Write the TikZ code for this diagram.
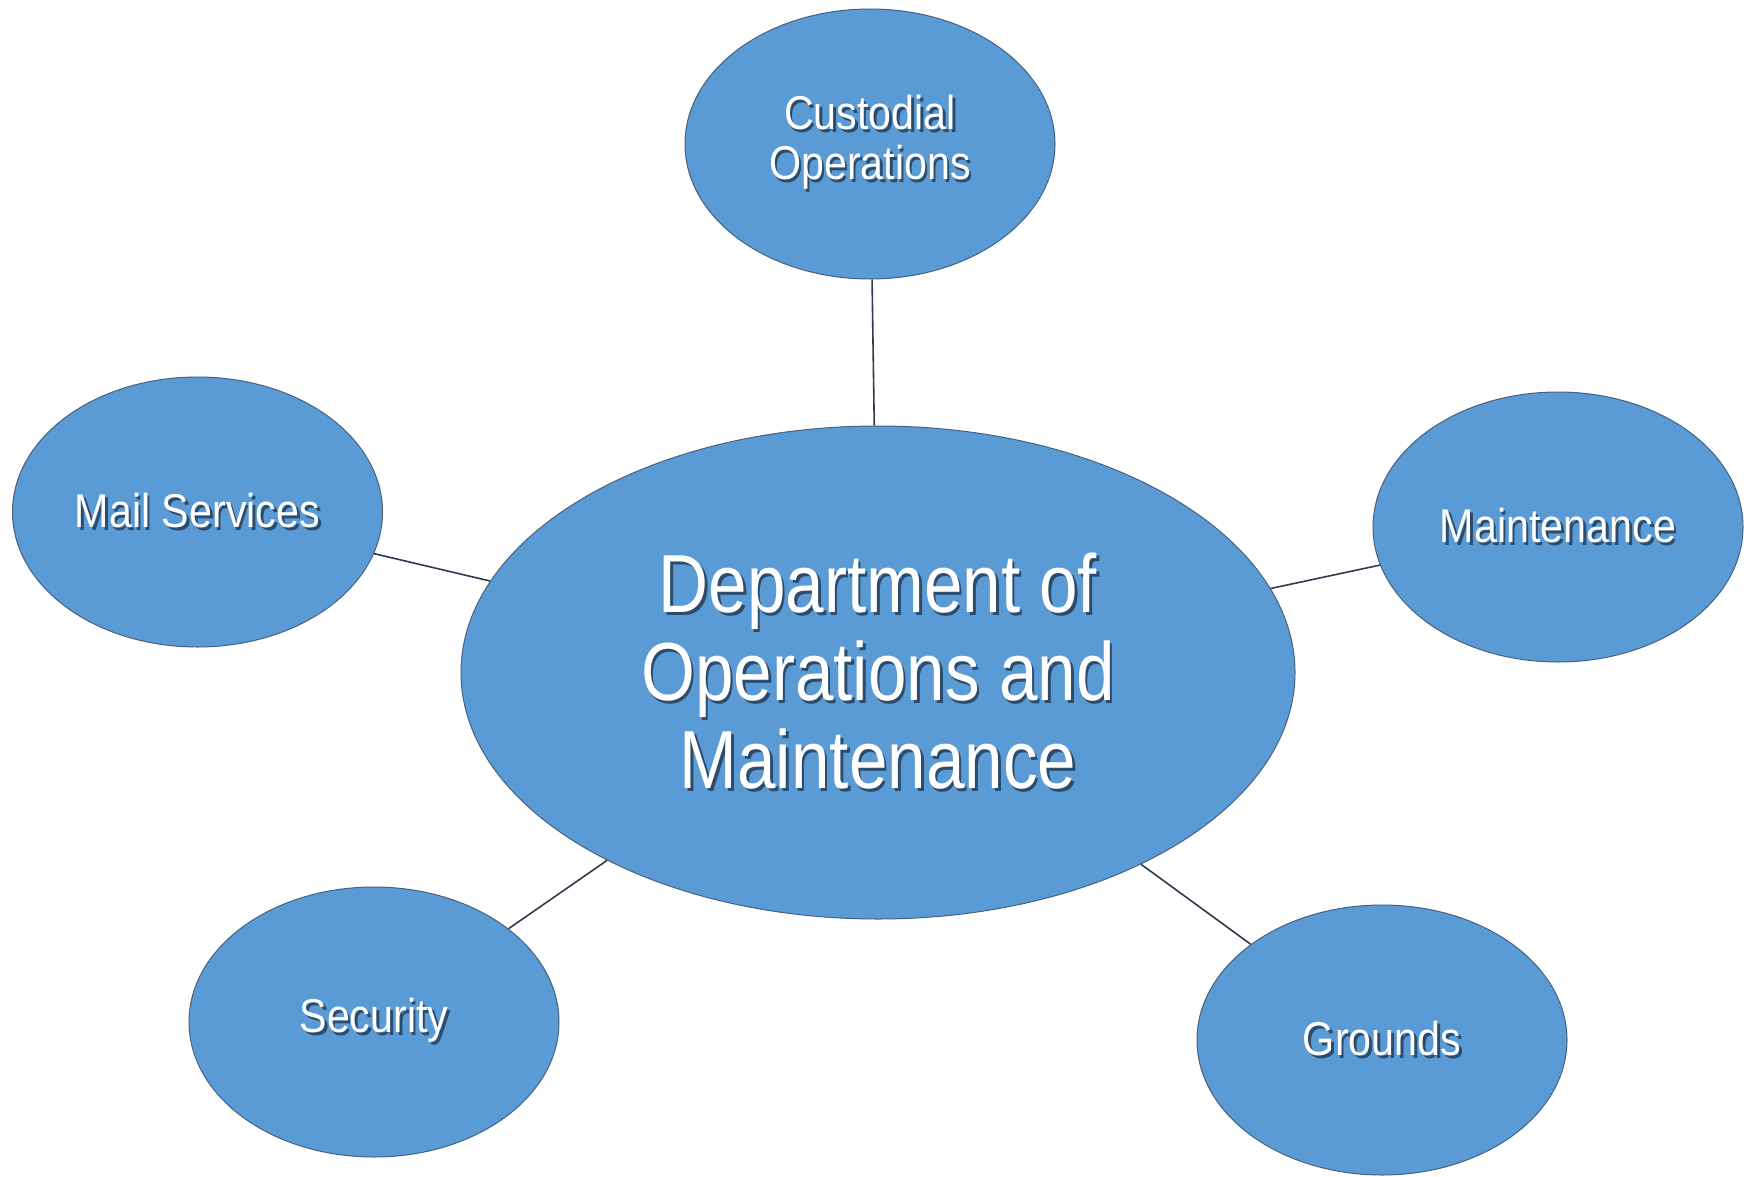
\documentclass[tikz,border=0pt]{standalone}
\usepackage{fontspec}
\usepackage{tikz}
\usepackage{xcolor}
\usetikzlibrary{shapes.geometric}
\newfontfamily\hubfont[FakeStretch=0.84]{Liberation Sans}
\newfontfamily\leaffont[FakeStretch=0.87]{Liberation Sans}
\definecolor{bubblefill}{RGB}{91,155,213}
\definecolor{bubbleline}{RGB}{70,98,128}
\definecolor{linkline}{RGB}{46,59,78}
\definecolor{txtshadow}{RGB}{44,76,110}
\newcommand{\shtxt}[1]{\rlap{\kern1.3pt\raisebox{-1.3pt}{\color{txtshadow}#1}}#1}
\newcommand{\bnode}[3]{\node [bubble] (#1) at (#2) {#3}}

\tikzset{
  bubble/.style={ellipse, draw=bubbleline, line width=0.5pt, fill=bubblefill,
    text=white, align=center, inner sep=0pt,
    minimum width=185pt, minimum height=135pt,
    font=\leaffont\fontsize{23.7}{25}\selectfont},
  hub/.style={minimum width=417pt, minimum height=246.5pt,
    font=\hubfont\fontsize{41.2}{44}\selectfont},
  link/.style={draw=linkline, line width=0.8pt}
}

\begin{document}
\begin{tikzpicture}[x=0.5pt,y=-0.5pt]
\useasboundingbox (0,0) rectangle (1755,1177);

\bnode{CUS}{870,144}{\shtxt{Custodial}\\\shtxt{Operations}};
\bnode{MAIL}{197.5,512}{\shtxt{Mail Services}};
\bnode{MAINT}{1558,527}{\shtxt{Maintenance}};
\bnode{SEC}{374,1022}{\shtxt{Security}};
\bnode{GRD}{1382,1040}{\shtxt{Grounds}};
\node [bubble, hub] (DEPT) at (878,672.5)
  {\shtxt{Department of}\\\shtxt{Operations and}\\\shtxt{Maintenance}};

\draw[link] (CUS) -- (DEPT);
\draw[link] (MAIL) -- (DEPT);
\draw[link] (MAINT) -- (DEPT);
\draw[link] (SEC) -- (DEPT);
\draw[link] (GRD) -- (DEPT);

\end{tikzpicture}
\end{document}
